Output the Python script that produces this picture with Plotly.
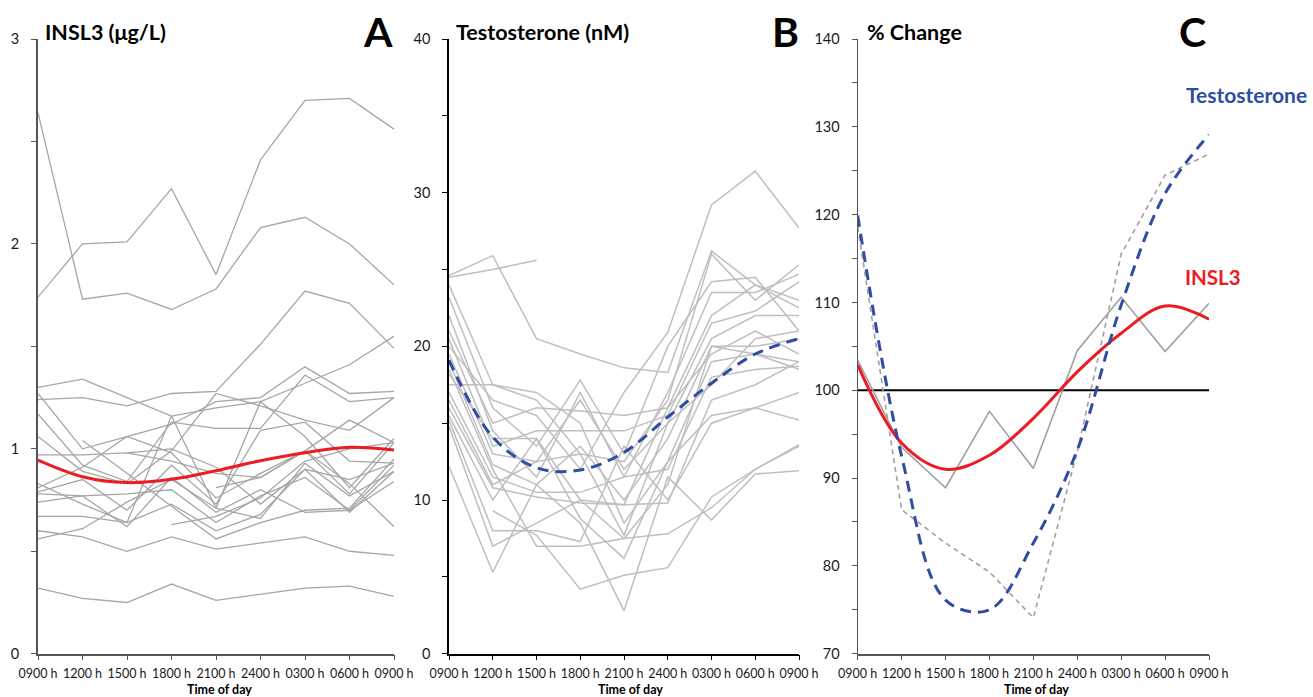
import plotly.graph_objects as go

# ---------------- data ----------------
time_labels = ["0900 h", "1200 h", "1500 h", "1800 h", "2100 h", "2400 h", "0300 h", "0600 h", "0900 h"]
time_idx = list(range(len(time_labels)))

# Panel A: individual INSL3 profiles (µg/L)
insl3_subjects = [
    [2.64, 1.73, 1.76, 1.68, 1.78, 2.08, 2.13, 2.00, 1.80],
    [1.74, 2.00, 2.01, 2.27, 1.85, 2.41, 2.70, 2.71, 2.56],
    [1.24, 1.25, 1.21, 1.27, 1.28, 1.51, 1.77, 1.71, 1.49],
    [1.30, 1.34, 1.25, 1.16, 1.20, 1.23, 1.32, 1.41, 1.55],
    [1.27, 1.00, 1.06, 1.12, 1.23, 1.25, 1.40, 1.27, 1.28],
    [1.17, 0.92, 0.84, 1.13, 1.10, 1.10, 1.36, 1.23, 1.25],
    [1.06, 0.89, 0.83, 0.99, 1.27, 1.21, 1.14, 1.09, 1.25],
    [0.97, 0.97, 0.98, 0.94, 0.88, 0.86, 0.99, 1.14, 1.03],
    [0.83, 0.73, 0.64, 1.16, 0.71, 1.23, 1.06, 0.81, 1.05],
    [0.81, 0.91, 1.06, 0.98, 0.76, 0.88, 0.99, 0.78, 1.03],
    [0.79, 0.85, 0.70, 0.92, 0.73, 1.09, 1.13, 0.94, 0.93],
    [0.78, 0.77, 0.78, 0.80, 0.64, 0.77, 0.86, 0.70, 0.92],
    [0.74, 0.77, 0.62, 0.86, 0.69, 0.80, 0.69, 0.70, 0.84],
    [0.67, 0.67, 0.64, 0.73, 0.60, 0.68, 0.90, 0.69, 0.89],
    [0.60, 0.57, 0.50, 0.57, 0.51, 0.54, 0.57, 0.50, 0.48],
    [0.56, 0.61, 0.74, 0.85, 0.71, 0.66, 0.93, 0.77, 0.89],
    [0.32, 0.27, 0.25, 0.34, 0.26, 0.29, 0.32, 0.33, 0.28],
    [None, 1.04, 0.88, 0.72, 0.56, 0.64, 0.70, 0.71, 0.95],
    [None, None, 0.98, 1.00, 0.91, 0.73, 0.90, 0.85, 0.93],
    [None, None, None, 0.63, 0.67, 0.76, 0.94, 1.00, 1.03],
    [None, None, None, None, 0.81, 0.86, 0.99, 0.83, 0.62],
]
insl3_mean_fit = [0.945, 0.864, 0.835, 0.851, 0.893, 0.942, 0.981, 1.007, 0.994]

# Panel B: individual testosterone profiles (nM)
testo_subjects = [
    [24.6, 25.9, 20.5, 19.5, 18.6, 18.3, 26.2, 24.0, 23.0],
    [24.5, 25.0, 25.6, None, None, None, None, None, None],
    [24.0, 17.5, 16.5, 13.0, 12.5, 16.5, 26.0, 23.0, 25.3],
    [23.2, 16.0, 13.5, 17.8, 13.0, 20.0, 24.2, 24.5, 21.0],
    [22.0, 14.5, 11.5, 17.0, 11.5, 17.0, 23.5, 23.5, 24.7],
    [21.0, 15.0, 16.0, 15.8, 15.5, 16.0, 22.0, 24.0, 22.5],
    [20.5, 13.5, 14.5, 14.5, 14.5, 15.5, 21.5, 22.3, 24.2],
    [20.0, 16.5, 15.5, 12.0, 17.0, 20.9, 29.2, 31.4, 27.7],
    [19.5, 13.0, 12.5, 16.5, 12.0, 15.0, 20.5, 22.0, 22.0],
    [19.0, 12.3, 11.0, 13.5, 10.0, 14.0, 20.0, 20.0, 20.5],
    [18.2, 14.0, 14.0, 10.0, 9.7, 16.0, 19.5, 21.0, 19.5],
    [17.5, 17.5, 17.0, 15.0, 8.5, 12.5, 19.0, 19.5, 19.0],
    [17.0, 11.5, 10.5, 10.5, 11.5, 12.0, 18.0, 18.5, 18.7],
    [16.5, 11.0, 12.5, 13.0, 7.7, 15.0, 17.5, 20.5, 21.0],
    [16.0, 10.8, 10.2, 9.8, 9.7, 9.8, 16.5, 17.5, 19.0],
    [15.5, 10.0, 14.0, 8.8, 6.2, 12.5, 15.5, 16.0, 17.0],
    [15.2, 8.0, 8.0, 7.3, 13.5, 10.0, 15.0, 16.0, 15.2],
    [14.8, 7.0, 8.5, 10.0, 7.5, 7.8, 9.5, 12.0, 13.6],
    [12.2, 5.3, 11.0, 8.5, 2.8, 11.5, 8.7, 11.7, 11.9],
    [None, 9.3, 7.7, 4.2, 5.1, 5.6, 10.2, 12.0, 13.5],
    [18.5, 12.0, 7.0, 7.0, 7.5, 11.0, 20.0, 19.5, 18.5],
]
testo_mean_fit = [19.1, 14.1, 12.1, 11.95, 13.1, 15.4, 17.6, 19.5, 20.5]

# Panel C: % change
insl3_pct = [103.4, 93.5, 88.9, 97.6, 91.1, 104.5, 110.6, 104.4, 109.9]
testo_pct = [118.6, 86.4, 82.6, 79.3, 74.1, 93.0, 115.5, 124.5, 126.9]
insl3_fit_pct = [102.9, 94.0, 91.0, 92.6, 96.8, 102.1, 106.5, 109.6, 108.1]
testo_fit_pct = [119.9, 92.5, 76.1, 75.0, 82.6, 93.2, 109.7, 122.4, 129.1]
baseline_pct = [100, 100]

# ---------------- styling ----------------
W, H = 1313, 697
FONT = "Lato, 'Open Sans', sans-serif"
RED = "#EC1C24"
BLUE = "#2F4EA3"
GRAY_A = "#A6A6A6"
GRAY_B = "#BFBFBF"


def px_x(p):
    return p / W


def px_y(p):
    return 1 - p / H


y_dom = [px_y(653.7), px_y(39)]
x_doms = [[px_x(38), px_x(394)], [px_x(449), px_x(799)], [px_x(857.7), px_x(1209)]]

fig = go.Figure()

for s in insl3_subjects:
    fig.add_trace(go.Scatter(x=time_idx, y=s, mode="lines", line=dict(color=GRAY_A, width=1.3),
                             connectgaps=False, xaxis="x", yaxis="y", hoverinfo="skip"))
fig.add_trace(go.Scatter(x=time_idx, y=insl3_mean_fit, mode="lines",
                         line=dict(color=RED, width=3, shape="spline"), xaxis="x", yaxis="y"))

for s in testo_subjects:
    fig.add_trace(go.Scatter(x=time_idx, y=s, mode="lines", line=dict(color=GRAY_B, width=1.5),
                             connectgaps=False, xaxis="x2", yaxis="y2", hoverinfo="skip"))
fig.add_trace(go.Scatter(x=time_idx, y=testo_mean_fit, mode="lines",
                         line=dict(color=BLUE, width=3, shape="spline", dash="11px,7px"),
                         xaxis="x2", yaxis="y2"))

fig.add_trace(go.Scatter(x=[time_idx[0], time_idx[-1]], y=baseline_pct, mode="lines",
                         line=dict(color="#000000", width=2), xaxis="x3", yaxis="y3"))
fig.add_trace(go.Scatter(x=time_idx, y=insl3_pct, mode="lines", line=dict(color="#A0A0A0", width=1.6),
                         xaxis="x3", yaxis="y3"))
fig.add_trace(go.Scatter(x=time_idx, y=testo_pct, mode="lines",
                         line=dict(color="#A0A0A0", width=1.6, dash="5px,4px"), xaxis="x3", yaxis="y3"))
fig.add_trace(go.Scatter(x=time_idx, y=insl3_fit_pct, mode="lines",
                         line=dict(color=RED, width=3, shape="spline"), xaxis="x3", yaxis="y3"))
fig.add_trace(go.Scatter(x=time_idx, y=testo_fit_pct, mode="lines",
                         line=dict(color=BLUE, width=3, shape="spline", dash="11px,7px"),
                         xaxis="x3", yaxis="y3"))


def xaxis_cfg(dom, anchor, lc):
    return dict(domain=dom, anchor=anchor, range=[0, 8], tickmode="array", tickvals=time_idx,
                ticktext=time_labels, ticks="outside", ticklen=5, tickwidth=1, tickcolor=lc,
                showline=True, linecolor=lc, linewidth=1.5, showgrid=False, zeroline=False,
                tickfont=dict(family=FONT, size=12.5, color="#1a1a1a"), ticklabelstandoff=3,
                automargin=False, fixedrange=True)


def yaxis_cfg(dom, anchor, rng, dtick, minor, lc, lw):
    return dict(domain=dom, anchor=anchor, range=rng, dtick=dtick, tick0=rng[0], ticks="outside",
                ticklen=5, tickwidth=1, tickcolor=lc, showline=True, linecolor=lc, linewidth=lw,
                showgrid=False, zeroline=False, tickfont=dict(family=FONT, size=14.5, color="#1a1a1a"),
                minor=dict(dtick=minor, tick0=rng[0], ticks="outside", ticklen=5, tickcolor=lc, showgrid=False),
                ticklabelstandoff=9, automargin=False, fixedrange=True)


fig.update_layout(
    width=W, height=H, margin=dict(l=0, r=0, t=0, b=0),
    paper_bgcolor="white", plot_bgcolor="white", showlegend=False,
    font=dict(family=FONT, color="#000000"),
    xaxis=xaxis_cfg(x_doms[0], "y", "#555555"),
    xaxis2=xaxis_cfg(x_doms[1], "y2", "#000000"),
    xaxis3=xaxis_cfg(x_doms[2], "y3", "#555555"),
    yaxis=yaxis_cfg(y_dom, "x", [0, 3], 1, 0.5, "#555555", 2),
    yaxis2=yaxis_cfg(y_dom, "x2", [0, 40], 10, 5, "#000000", 1.5),
    yaxis3=yaxis_cfg(y_dom, "x3", [70, 140], 10, 5, "#555555", 1.3),
)

ann = []


def add_text(text, x, y, size, color="#000000", xanchor="left"):
    ann.append(dict(text=text, x=px_x(x), y=px_y(y), xref="paper", yref="paper", showarrow=False,
                    xanchor=xanchor, yanchor="middle", font=dict(family=FONT, size=size, color=color)))


add_text("<b>INSL3 (μg/L)</b>", 43, 32, 21.5)
add_text("<b>Testosterone (nM)</b>", 454, 32, 21.5)
add_text("<b>% Change</b>", 865, 32, 21.5)
add_text("<b>A</b>", 378, 32, 41, xanchor="center")
add_text("<b>B</b>", 785, 32, 41, xanchor="center")
add_text("<b>C</b>", 1192, 32, 41, xanchor="center")
add_text("<b>Testosterone</b>", 1184, 95, 21, BLUE)
add_text("<b>INSL3</b>", 1183, 277, 20.5, RED)
add_text("<b>Time of day</b>", 220, 689, 12.5, xanchor="center")
add_text("<b>Time of day</b>", 630, 689, 12.5, xanchor="center")
add_text("<b>Time of day</b>", 1036, 689, 12.5, xanchor="center")
fig.update_layout(annotations=ann)

fig.write_html(
    "out.html",
    config={"displayModeBar": False},
    post_script="document.body.style.margin='0';document.body.style.overflow='hidden';",
)
